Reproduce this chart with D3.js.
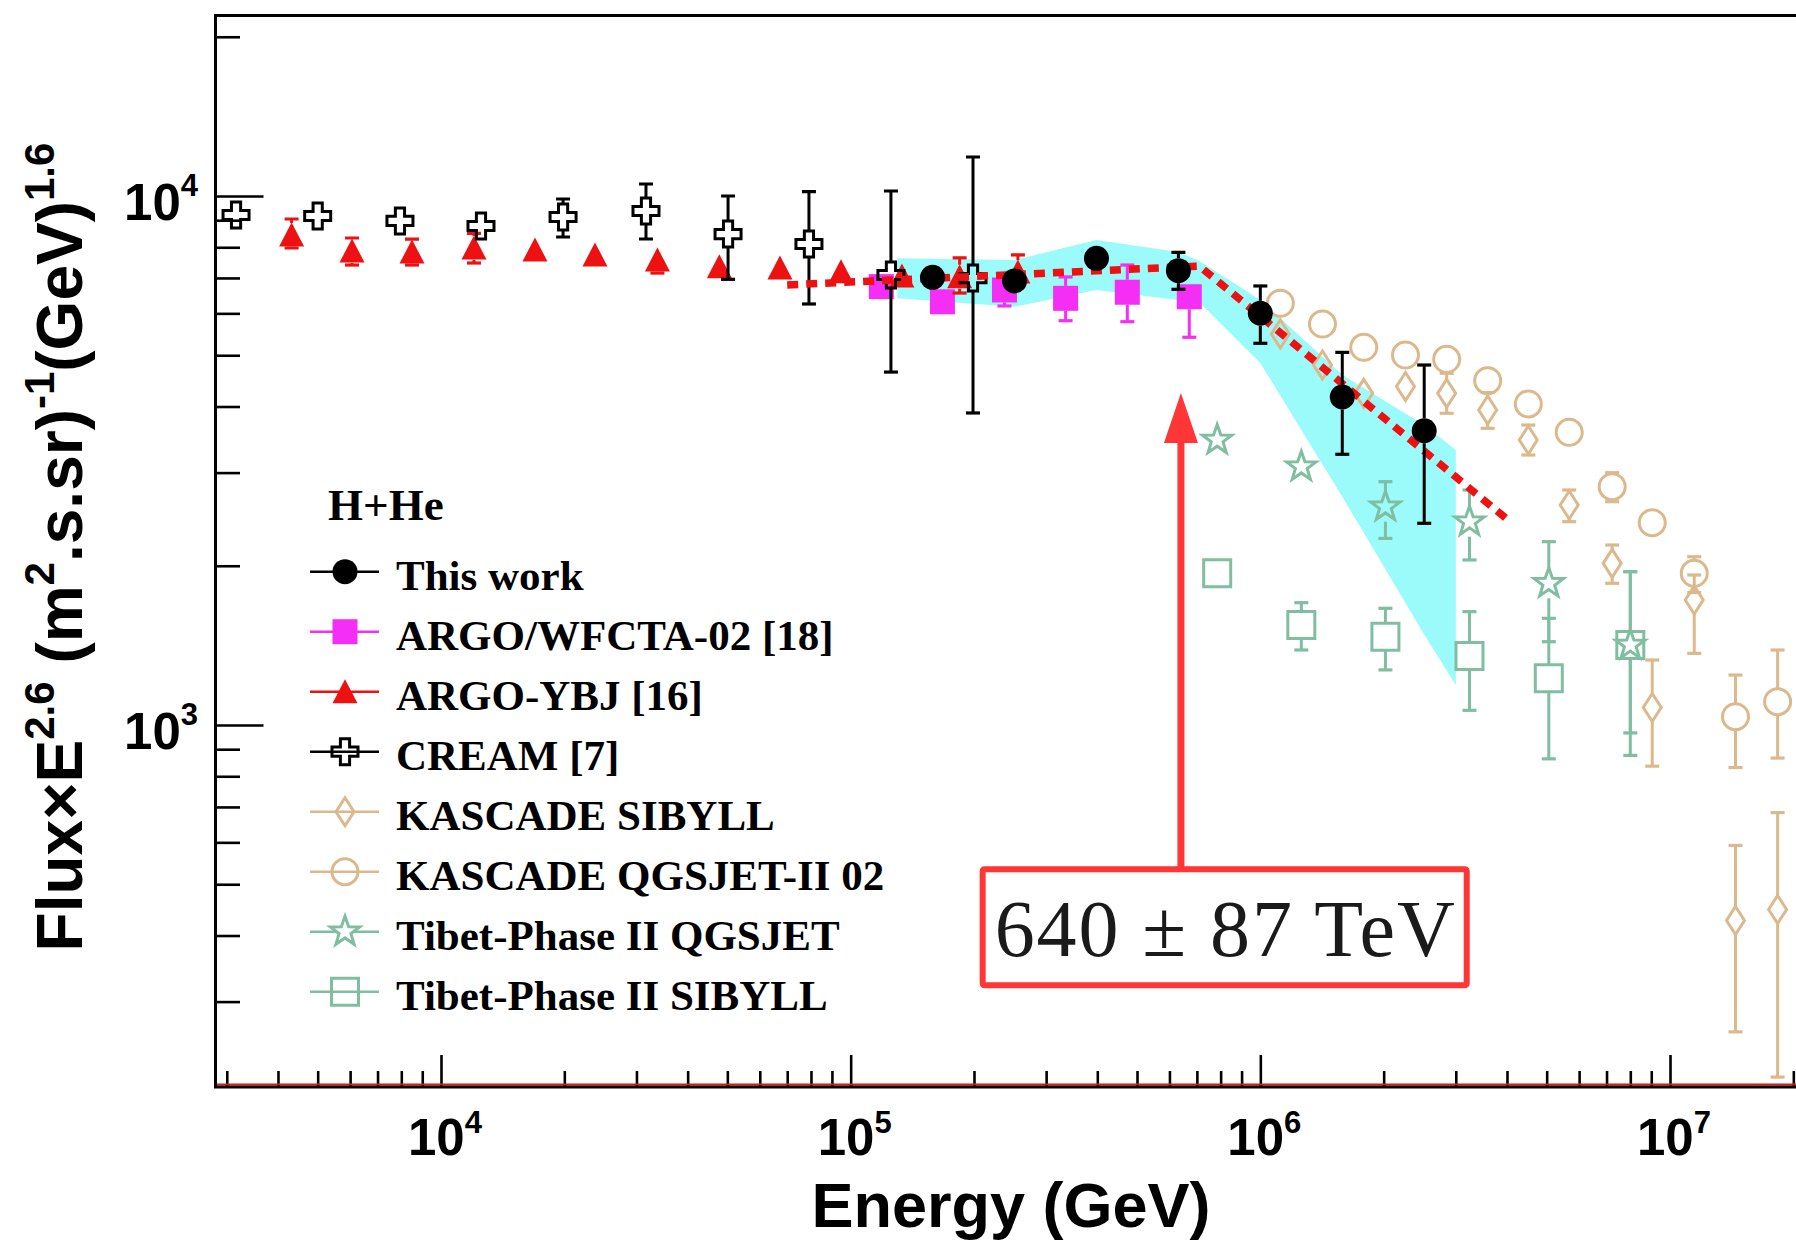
<!DOCTYPE html>
<html>
<head>
<meta charset="utf-8">
<script src="https://cdn.jsdelivr.net/npm/d3@7"></script>
<style>
  html, body { margin: 0; padding: 0; background: #ffffff; }
  svg { display: block; }
</style>
</head>
<body>
<svg id="chart" width="1796" height="1241"></svg>
<script>
// ---- H+He spectrum, Flux x E^2.6 versus energy ----

// This work (filled black circles)
const thisWorkEnergy = [1.585e5, 2.512e5, 3.981e5, 6.31e5, 1.0e6, 1.585e6, 2.512e6];
const thisWorkFlux   = [7020, 6909, 7625, 7225, 6002, 4169, 3599];
const thisWorkLow    = [null, null, null, 6662, 5267, 3249, 2406];
const thisWorkHigh   = [null, null, null, 7827, 6760, 5063, 4792];

// ARGO/WFCTA-02 [18] (filled magenta squares)
const wfctaEnergy = [1.188e5, 1.675e5, 2.374e5, 3.347e5, 4.735e5, 6.708e5];
const wfctaFlux   = [6740, 6310, 6642, 6405, 6577, 6450];
const wfctaLow    = [null, null, 6196, 5811, 5786, 5407];
const wfctaHigh   = [null, null, null, 7030, 7405, null];

// ARGO-YBJ [16] (filled red triangles)
const ybjEnergy = [4318, 6065, 8496, 12036, 16960, 23760, 33750, 47800, 67200, 94700, 133400, 184500, 256000];
const ybjFlux   = [8437, 7872, 7837, 7974, 7906, 7737, 7570, 7350, 7310, 7193, 7060, 7037, 7183];
const ybjLow    = [7974, 7405, 7405, 7470, null, null, 7150, null, null, null, null, 6555, 6800];
const ybjHigh   = [9047, 8330, 8290, 8500, null, null, null, null, null, null, null, 7640, 7737];

// CREAM [7] (open black crosses)
const creamEnergy = [3160, 5000, 7940, 12520, 19860, 31650, 50200, 79100, 125400, 198900];
const creamFlux   = [9206, 9167, 8970, 8776, 9127, 9368, 8474, 8115, 7090, 6996];
const creamLow    = [null, null, null, null, 8366, 8293, 6958, 6250, 4647, 3889];
const creamHigh   = [null, null, null, null, 9870, 10536, 10000, 10190, 10220, 11850];

// KASCADE (tan), shared energy grid for both interaction models
const kascadeEnergy = [1.119e6, 1.418e6, 1.788e6, 2.261e6, 2.85e6, 3.589e6, 4.51e6, 5.675e6, 7.225e6, 9.05e6, 1.146e7, 1.445e7, 1.831e7];
const kascadeSibyllFlux = [5483, 4792, 4236, 4364, 4236, 3940, 3458, 2606, 2021, 1079, 1723, 427, 448];
const kascadeSibyllLow  = [null, null, null, null, 3884, 3638, 3239, 2423, 1853, 836, 1366, 263, 216];
const kascadeSibyllHigh = [null, null, null, null, 4622, 4250, 3690, 2781, 2189, 1327, 1921, 592, 683];
const kascadeQgsFlux = [6270, 5728, 5176, 5005, 4913, 4476, 4045, 3575, 2821, 2412, 1935, 1037, 1107];
const kascadeQgsLow  = [null, null, null, null, null, null, null, null, 2643, null, 1780, 831, 866];
const kascadeQgsHigh = [null, null, null, null, null, null, null, null, 2999, null, 2080, 1243, 1386];

// Tibet-Phase II (green), shared energy grid
const tibetEnergy = [7.846e5, 1.259e6, 2.02e6, 3.24e6, 5.06e6, 8.0e6];
const tibetQgsFlux = [3458, 3078, 2586, 2423, 1853, 1417];
const tibetQgsLow  = [null, null, 2253, 2051, 1437, 966];
const tibetQgsHigh = [null, null, 2884, 2781, 2221, 1950];
const tibetSibyllFlux = [1935, 1545, 1469, 1350, 1226, 1417];
const tibetSibyllLow  = [null, 1386, 1271, 1066, 863, 876];
const tibetSibyllHigh = [null, 1703, 1662, 1638, 1591, 1949];

// Systematic band of this work
const bandEnergy = [1.3e5, 2.512e5, 3.981e5, 6.31e5, 7.1e5, 1.0e6, 1.585e6, 2.512e6, 3.0e6];
const bandUpper  = [7625, 7568, 8257, 7837, 7535, 6361, 4587, 3691, 3310];
const bandLower  = [6406, 6176, 6643, 6361, 6300, 4834, 2702, 1482, 1190];

// Broken power-law fit (knee)
const fitEnergy = [7.0e4, 7.1e5, 4.0e6];
const fitFlux   = [6790, 7370, 2450];

// Knee annotation
const kneeEnergy = 6.4e5;          // 640 TeV in GeV
const kneeLabel = "640 \u00B1 87 TeV";
const arrowTipFlux = 4240;
const arrowTailFlux = 534;
const boxEnergy = [2.1e5, 3.19e6];
const boxFlux = [534, 322];

// Axis tick labels
const xTickLabels = [{v: 1e4, p: "4"}, {v: 1e5, p: "5"}, {v: 1e6, p: "6"}, {v: 1e7, p: "7"}];
const yTickLabels = [{v: 1e3, p: "3"}, {v: 1e4, p: "4"}];

const legendTitle = "H+He";
const legendNames = ["This work", "ARGO/WFCTA-02 [18]", "ARGO-YBJ [16]", "CREAM [7]",
  "KASCADE SIBYLL", "KASCADE QGSJET-II 02", "Tibet-Phase II QGSJET", "Tibet-Phase II SIBYLL"];

// ---- layout ----
const W = 1796, H = 1241;
const plotLeft = 215.5, plotTop = 15.5, plotBottom = 1087, plotRight = 1800;

const x = d3.scaleLog().domain([1e4, 1e7]).range([441, 1670]);
const y = d3.scaleLog().domain([1e3, 1e4]).range([725, 196]);

const COLORS = {
  black: "#000000",
  magenta: "#f52ef5",
  red: "#ee1111",
  tan: "#dbb98c",
  green: "#80bea2",
  band: "#9bfafa",
  note: "#ff3636"
};

const svg = d3.select("#chart");
svg.append("rect").attr("width", W).attr("height", H).attr("fill", "#fff");

svg.append("defs").append("clipPath").attr("id", "plotClip")
  .append("rect").attr("x", plotLeft).attr("y", plotTop)
  .attr("width", plotRight - plotLeft).attr("height", plotBottom - plotTop);

const plot = svg.append("g").attr("clip-path", "url(#plotClip)");

// ---- marker shapes ----
function starPath(R, r) {
  const pts = [];
  for (let i = 0; i < 10; i++) {
    const a = -Math.PI / 2 + i * Math.PI / 5;
    const rad = i % 2 === 0 ? R : r;
    pts.push([rad * Math.cos(a), rad * Math.sin(a)]);
  }
  return "M" + pts.map(p => p[0].toFixed(2) + "," + p[1].toFixed(2)).join("L") + "Z";
}
function crossPath(s, a) {
  const p = [[-a,-s],[a,-s],[a,-a],[s,-a],[s,a],[a,a],[a,s],[-a,s],[-a,a],[-s,a],[-s,-a],[-a,-a]];
  return "M" + p.map(q => q.join(",")).join("L") + "Z";
}
const SHAPES = {
  circle:   {d: "M12.5,0A12.5,12.5 0 1,1 -12.5,0A12.5,12.5 0 1,1 12.5,0Z", half: 12.5},
  square:   {d: "M-12.5,-12.5H12.5V12.5H-12.5Z", half: 12.5},
  triangle: {d: "M0,-12.5L12.5,11.5L-12.5,11.5Z", half: 12},
  cross:    {d: crossPath(13, 4.6), half: 13},
  diamond:  {d: "M0,-14L9,0L0,14L-9,0Z", half: 14},
  ocircle:  {d: "M13,0A13,13 0 1,1 -13,0A13,13 0 1,1 13,0Z", half: 13},
  star:     {d: starPath(15.5, 6.2), half: 15},
  osquare:  {d: "M-13.5,-13.5H13.5V13.5H-13.5Z", half: 13.5}
};

const series = [
  {name: legendNames[0], shape: "circle", color: COLORS.black, filled: true,
   E: thisWorkEnergy, F: thisWorkFlux, lo: thisWorkLow, hi: thisWorkHigh},
  {name: legendNames[1], shape: "square", color: COLORS.magenta, filled: true,
   E: wfctaEnergy, F: wfctaFlux, lo: wfctaLow, hi: wfctaHigh},
  {name: legendNames[2], shape: "triangle", color: COLORS.red, filled: true,
   E: ybjEnergy, F: ybjFlux, lo: ybjLow, hi: ybjHigh},
  {name: legendNames[3], shape: "cross", color: COLORS.black, filled: false,
   E: creamEnergy, F: creamFlux, lo: creamLow, hi: creamHigh},
  {name: legendNames[4], shape: "diamond", color: COLORS.tan, filled: false,
   E: kascadeEnergy, F: kascadeSibyllFlux, lo: kascadeSibyllLow, hi: kascadeSibyllHigh},
  {name: legendNames[5], shape: "ocircle", color: COLORS.tan, filled: false,
   E: kascadeEnergy, F: kascadeQgsFlux, lo: kascadeQgsLow, hi: kascadeQgsHigh},
  {name: legendNames[6], shape: "star", color: COLORS.green, filled: false,
   E: tibetEnergy, F: tibetQgsFlux, lo: tibetQgsLow, hi: tibetQgsHigh},
  {name: legendNames[7], shape: "osquare", color: COLORS.green, filled: false,
   E: tibetEnergy, F: tibetSibyllFlux, lo: tibetSibyllLow, hi: tibetSibyllHigh}
];

// ---- systematic band ----
const bandPts = bandEnergy.map((e, i) => [x(e), y(bandUpper[i])])
  .concat(bandEnergy.map((e, i) => [x(e), y(bandLower[i])]).reverse());
plot.append("path")
  .attr("d", d3.line()(bandPts) + "Z")
  .attr("fill", COLORS.band).attr("stroke", "none");

// ---- data points with error bars ----
function drawSeries(s) {
  const g = plot.append("g");
  const shape = SHAPES[s.shape];
  const capW = 7;
  s.E.forEach((e, i) => {
    const cx = x(e), cy = y(s.F[i]);
    const segs = [];
    if (s.hi[i] != null) {
      const yt = y(s.hi[i]);
      if (cy - shape.half - yt > 0.5) segs.push([yt, cy - shape.half]);
    }
    if (s.lo[i] != null) {
      const yb = y(s.lo[i]);
      if (yb - (cy + shape.half) > 0.5) segs.push([cy + shape.half, yb]);
    }
    segs.forEach(([a, b]) => {
      g.append("line").attr("x1", cx).attr("x2", cx).attr("y1", a).attr("y2", b)
        .attr("stroke", s.color).attr("stroke-width", 3);
    });
    [s.hi[i], s.lo[i]].forEach(v => {
      if (v == null) return;
      const yy = y(v);
      if (Math.abs(yy - cy) <= shape.half) return;
      g.append("line").attr("x1", cx - capW).attr("x2", cx + capW).attr("y1", yy).attr("y2", yy)
        .attr("stroke", s.color).attr("stroke-width", 3.2);
    });
    g.append("path").attr("d", shape.d)
      .attr("transform", `translate(${cx},${cy})`)
      .attr("fill", s.filled ? s.color : "none")
      .attr("stroke", s.filled ? "none" : s.color)
      .attr("stroke-width", s.shape === "cross" ? 3 : 3);
  });
}

const drawOrder = [7, 6, 4, 5, 1, 2, 3];
drawOrder.forEach(k => drawSeries(series[k]));

// ---- knee fit ----
plot.append("path")
  .attr("d", d3.line().x(d => x(d[0])).y(d => y(d[1]))(fitEnergy.map((e, i) => [e, fitFlux[i]])))
  .attr("fill", "none").attr("stroke", COLORS.red)
  .attr("stroke-width", 7.5).attr("stroke-dasharray", "11,8");

drawSeries(series[0]);

// ---- axes ----
const xMinor = [], yMinor = [];
for (let dec = 1e3; dec <= 1e7; dec *= 10)
  for (let m = 2; m <= 9; m++) xMinor.push(m * dec);
for (let dec = 1e2; dec <= 1e4; dec *= 10)
  for (let m = 2; m <= 9; m++) yMinor.push(m * dec);
const xMinorIn = xMinor.filter(v => x(v) > plotLeft + 4 && x(v) < W + 10);
const yMinorIn = yMinor.filter(v => y(v) < plotBottom - 4 && y(v) > plotTop + 4);

function styleAxis(g) {
  g.select(".domain").remove();
  g.selectAll(".tick line").attr("stroke", "#000").attr("stroke-width", 2.6);
  g.selectAll(".tick text").remove();
}

svg.append("g").attr("transform", `translate(0,${plotBottom})`)
  .call(d3.axisBottom(x).tickValues(xMinorIn).tickSize(-16).tickFormat(""))
  .call(styleAxis);
svg.append("g").attr("transform", `translate(0,${plotBottom})`)
  .call(d3.axisBottom(x).tickValues(xTickLabels.map(d => d.v)).tickSize(-32).tickFormat(""))
  .call(styleAxis);
svg.append("g").attr("transform", `translate(${plotLeft},0)`)
  .call(d3.axisLeft(y).tickValues(yMinorIn).tickSize(-24.5).tickFormat(""))
  .call(styleAxis);
svg.append("g").attr("transform", `translate(${plotLeft},0)`)
  .call(d3.axisLeft(y).tickValues(yTickLabels.map(d => d.v)).tickSize(-48).tickFormat(""))
  .call(styleAxis);

// frame lines
svg.append("line").attr("x1", plotLeft).attr("x2", W).attr("y1", plotBottom - 2.5).attr("y2", plotBottom - 2.5)
  .attr("stroke", COLORS.red).attr("stroke-width", 2.2);
svg.append("line").attr("x1", plotLeft - 1.5).attr("x2", W).attr("y1", plotBottom).attr("y2", plotBottom)
  .attr("stroke", "#000").attr("stroke-width", 3);
svg.append("line").attr("x1", plotLeft - 1.5).attr("x2", W).attr("y1", plotTop).attr("y2", plotTop)
  .attr("stroke", "#000").attr("stroke-width", 3);
svg.append("line").attr("x1", plotLeft).attr("x2", plotLeft).attr("y1", plotTop).attr("y2", plotBottom)
  .attr("stroke", "#000").attr("stroke-width", 3);

// tick labels
const sansBold = "'Liberation Sans', Arial, Helvetica, sans-serif";
xTickLabels.forEach(d => {
  const t = svg.append("text").attr("x", x(d.v) + 4).attr("y", 1155)
    .attr("text-anchor", "middle").attr("font-family", sansBold).attr("font-weight", "bold")
    .attr("font-size", 51).attr("fill", "#000");
  t.append("tspan").text("10");
  t.append("tspan").attr("font-size", 31).attr("dy", -22).text(d.p);
});
yTickLabels.forEach(d => {
  const t = svg.append("text").attr("x", 198).attr("y", y(d.v) + 24)
    .attr("text-anchor", "end").attr("font-family", sansBold).attr("font-weight", "bold")
    .attr("font-size", 51).attr("fill", "#000");
  t.append("tspan").text("10");
  t.append("tspan").attr("font-size", 31).attr("dy", -24).text(d.p);
});

// axis titles
svg.append("text").attr("x", 1011).attr("y", 1227).attr("text-anchor", "middle")
  .attr("font-family", sansBold).attr("font-weight", "bold").attr("font-size", 63)
  .attr("fill", "#000").text("Energy (GeV)");

const yTitle = svg.append("text")
  .attr("transform", "translate(82,547) rotate(-90)")
  .attr("text-anchor", "middle")
  .attr("font-family", sansBold).attr("font-weight", "bold").attr("font-size", 64).attr("fill", "#000");
const yParts = [["Flux\u00D7E", false], ["2.6", true], [" (m", false], ["2", true],
  [".s.sr)", false], ["-1", true], ["(GeV)", false], ["1.6", true]];
let raised = false;
yParts.forEach(([txt, sup]) => {
  const ts = yTitle.append("tspan").text(txt);
  if (sup) { ts.attr("font-size", 42).attr("dy", raised ? 0 : -28); raised = true; }
  else { if (raised) ts.attr("dy", 28); raised = false; }
});

// ---- legend ----
const serifBold = "'Liberation Serif', 'Times New Roman', Times, serif";
const legend = svg.append("g");
legend.append("text").attr("x", 328).attr("y", 520)
  .attr("font-family", serifBold).attr("font-weight", "bold").attr("font-size", 45)
  .attr("fill", "#000").text(legendTitle);
series.forEach((s, i) => {
  const ry = 571.7 + 60 * i;
  legend.append("line").attr("x1", 310).attr("x2", 379).attr("y1", ry).attr("y2", ry)
    .attr("stroke", s.color).attr("stroke-width", 2.6);
  legend.append("path").attr("d", SHAPES[s.shape].d)
    .attr("transform", `translate(345,${ry})`)
    .attr("fill", s.filled ? s.color : (s.shape === "star" ? "#fff" : "none"))
    .attr("stroke", s.filled ? "none" : s.color)
    .attr("stroke-width", 3);
  legend.append("text").attr("x", 396).attr("y", ry + 18.5)
    .attr("font-family", serifBold).attr("font-weight", "bold").attr("font-size", 43)
    .attr("fill", "#000").text(s.name);
});

// ---- knee annotation ----
const ax = x(kneeEnergy);
const tipY = y(arrowTipFlux), tailY = y(arrowTailFlux);
svg.append("line").attr("x1", ax).attr("x2", ax).attr("y1", tipY + 45).attr("y2", tailY)
  .attr("stroke", COLORS.note).attr("stroke-width", 7);
svg.append("path")
  .attr("d", `M${ax},${tipY}L${ax + 17},${tipY + 50}L${ax - 17},${tipY + 50}Z`)
  .attr("fill", COLORS.note);
const bx0 = x(boxEnergy[0]), bx1 = x(boxEnergy[1]);
const by0 = y(boxFlux[0]), by1 = y(boxFlux[1]);
svg.append("rect").attr("x", bx0).attr("y", by0).attr("width", bx1 - bx0).attr("height", by1 - by0)
  .attr("rx", 2).attr("fill", "none").attr("stroke", COLORS.note).attr("stroke-width", 6);
svg.append("text").attr("x", (bx0 + bx1) / 2).attr("y", 956).attr("text-anchor", "middle")
  .attr("font-family", "'Liberation Serif', 'Times New Roman', serif").attr("font-size", 80)
  .attr("textLength", 460).attr("lengthAdjust", "spacing")
  .attr("fill", "#1a1a1a").text(kneeLabel);
</script>
</body>
</html>
